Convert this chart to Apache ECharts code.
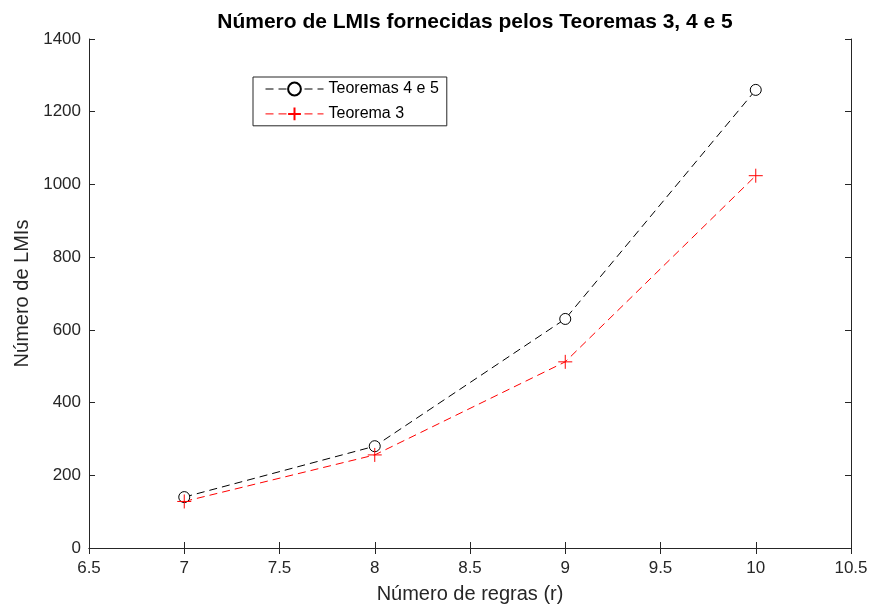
<!DOCTYPE html>
<html><head><meta charset="utf-8">
<script src="https://cdn.jsdelivr.net/npm/echarts@6/dist/echarts.min.js"></script>
<style>html,body{margin:0;padding:0;background:#fff}#c{width:873px;height:609px}</style>
</head><body><div id="c"></div>
<script>
var regras = [7, 8, 9, 10];
var teoremas45 = [140, 280, 630, 1260];
var teorema3 = [128, 256, 512, 1024];
var xTicks = [6.5, 7, 7.5, 8, 8.5, 9, 9.5, 10, 10.5];
var yTicks = [0, 200, 400, 600, 800, 1000, 1200, 1400];

function pairs(xs, ys){ return xs.map(function(x,i){ return [x, ys[i]]; }); }
var ax = '#262626';
var font = 'Liberation Sans, Arial, Helvetica, sans-serif';
var chart = echarts.init(document.getElementById('c'), null, {renderer:'canvas'});
chart.setOption({
  animation:false,
  backgroundColor:'#fff',
  title:{text:'Número de LMIs fornecidas pelos Teoremas 3, 4 e 5', left:470, textAlign:'center', top:7,
    textStyle:{fontFamily:font, fontSize:21, fontWeight:'bold', color:'#000'}},
  grid:{left:89, right:22, top:39, bottom:57},
  legend:{left:253, top:77, orient:'vertical', itemWidth:58, itemHeight:16, itemGap:8,
    padding:[4,8,3,12], borderColor:ax, borderWidth:1, borderRadius:0, backgroundColor:'#fff',
    lineStyle:{width:1},
    textStyle:{fontFamily:font, fontSize:16, color:'#000'},
    data:['Teoremas 4 e 5','Teorema 3']},
  xAxis:[{type:'value', min:xTicks[0], max:xTicks[xTicks.length-1], interval:0.5,
    name:'Número de regras (r)', nameLocation:'middle', nameGap:36,
    nameTextStyle:{fontFamily:font, fontSize:20, color:ax},
    axisLine:{onZero:false, lineStyle:{color:ax}}, axisTick:{inside:true, length:6, lineStyle:{color:ax}},
    axisLabel:{fontFamily:font, fontSize:17, color:ax, margin:12}, splitLine:{show:false}},
    {type:'value', position:'top', min:xTicks[0], max:xTicks[xTicks.length-1], interval:0.5,
    axisLine:{lineStyle:{color:ax}}, axisTick:{inside:true, length:6, lineStyle:{color:ax}},
    axisLabel:{show:false}, splitLine:{show:false}}],
  yAxis:[{type:'value', min:yTicks[0], max:yTicks[yTicks.length-1], interval:200,
    name:'Número de LMIs', nameLocation:'middle', nameGap:54,
    nameTextStyle:{fontFamily:font, fontSize:20, color:ax},
    axisLine:{show:true, lineStyle:{color:ax}}, axisTick:{show:true, inside:true, length:6, lineStyle:{color:ax}},
    axisLabel:{fontFamily:font, fontSize:17, color:ax, margin:8, formatter:function(v){return String(v);}}, splitLine:{show:false}},
    {type:'value', position:'right', min:yTicks[0], max:yTicks[yTicks.length-1], interval:200,
    axisLine:{show:true, lineStyle:{color:ax}}, axisTick:{show:true, inside:true, length:6, lineStyle:{color:ax}},
    axisLabel:{show:false}, splitLine:{show:false}}],
  series:[
    {name:'Teoremas 4 e 5', type:'line', data:pairs(regras, teoremas45),
      symbol:'circle', symbolSize:11, showAllSymbol:true,
      lineStyle:{color:'#000', width:1, type:[8,5]},
      itemStyle:{color:'#fff', borderColor:'#000', borderWidth:1}},
    {name:'Teorema 3', type:'line', data:pairs(regras, teorema3),
      symbol:'path://M0,-1L0,1M-1,0L1,0', symbolSize:14, showAllSymbol:true,
      lineStyle:{color:'#ff0000', width:1, type:[8,5]},
      itemStyle:{color:'none', borderColor:'#ff0000', borderWidth:1}}
  ]
});
</script></body></html>
